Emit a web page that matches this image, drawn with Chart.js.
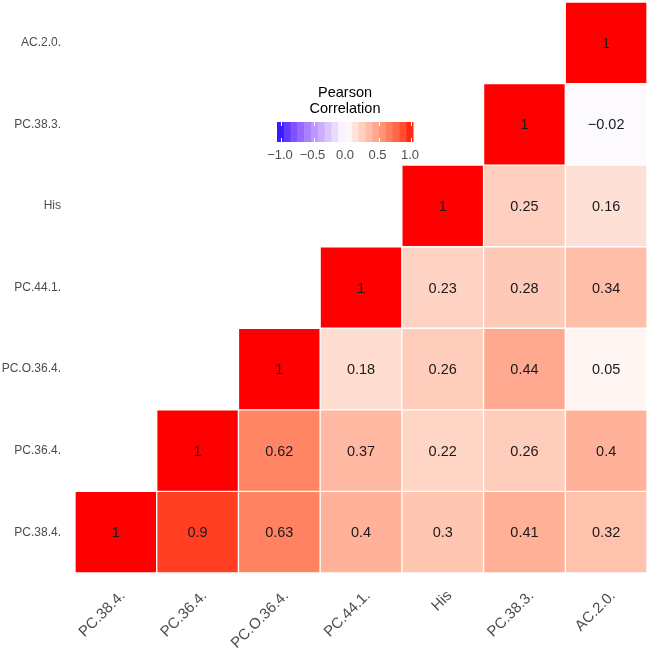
<!DOCTYPE html>
<html>
<head>
<meta charset="utf-8">
<script src="https://cdn.jsdelivr.net/npm/chart.js@4/dist/chart.umd.min.js"></script>
<style>
  html, body { margin: 0; padding: 0; background: #fff; }
</style>
</head>
<body>
<canvas id="heat" width="649" height="655"></canvas>
<script>
// variables, bottom-to-top on y and left-to-right on x
const vars = ["PC.38.4.", "PC.36.4.", "PC.O.36.4.", "PC.44.1.", "His", "PC.38.3.", "AC.2.0."];

// upper triangle, one row per y variable (value for x = same var onwards)
const rowPC384 = [1, 0.9, 0.63, 0.4, 0.3, 0.41, 0.32];
const rowPC364 = [1, 0.62, 0.37, 0.22, 0.26, 0.4];
const rowPCO364 = [1, 0.18, 0.26, 0.44, 0.05];
const rowPC441 = [1, 0.23, 0.28, 0.34];
const rowHis = [1, 0.25, 0.16];
const rowPC383 = [1, -0.02];
const rowAC20 = [1];
const rows = [rowPC384, rowPC364, rowPCO364, rowPC441, rowHis, rowPC383, rowAC20];

const legendTicks = [-1.0, -0.5, 0.0, 0.5, 1.0];

// --- colour scale: blue - white - red, interpolated in Lab like ggplot2 gradient2
function toLab(rgb) {
  const lin = rgb.map(c => { c /= 255; return c <= 0.04045 ? c / 12.92 : Math.pow((c + 0.055) / 1.055, 2.4); });
  let X = (lin[0] * 0.4124 + lin[1] * 0.3576 + lin[2] * 0.1805) / 0.95047;
  let Y = (lin[0] * 0.2126 + lin[1] * 0.7152 + lin[2] * 0.0722);
  let Z = (lin[0] * 0.0193 + lin[1] * 0.1192 + lin[2] * 0.9505) / 1.08883;
  const f = t => t > 0.008856 ? Math.cbrt(t) : (7.787 * t + 16 / 116);
  X = f(X); Y = f(Y); Z = f(Z);
  return [116 * Y - 16, 500 * (X - Y), 200 * (Y - Z)];
}
function fromLab(lab) {
  let Y = (lab[0] + 16) / 116, X = lab[1] / 500 + Y, Z = Y - lab[2] / 200;
  const fi = t => t * t * t > 0.008856 ? t * t * t : (t - 16 / 116) / 7.787;
  X = fi(X) * 0.95047; Y = fi(Y); Z = fi(Z) * 1.08883;
  let r = X * 3.2406 + Y * -1.5372 + Z * -0.4986;
  let g = X * -0.9689 + Y * 1.8758 + Z * 0.0415;
  let b = X * 0.0557 + Y * -0.2040 + Z * 1.0570;
  return [r, g, b].map(c => {
    c = c > 0.0031308 ? 1.055 * Math.pow(c, 1 / 2.4) - 0.055 : 12.92 * c;
    return Math.round(Math.max(0, Math.min(1, c)) * 255);
  });
}
const LAB_RED = toLab([255, 0, 0]);
const LAB_WHITE = toLab([255, 255, 255]);
const LAB_BLUE = toLab([0, 0, 255]);
function corrColor(v) {
  const end = v >= 0 ? LAB_RED : LAB_BLUE;
  const t = Math.min(1, Math.abs(v));
  const lab = LAB_WHITE.map((w, k) => w + (end[k] - w) * t);
  const c = fromLab(lab);
  return `rgb(${c[0]},${c[1]},${c[2]})`;
}

// one floating-bar dataset per row
const datasets = rows.map((row, j) => {
  const data = vars.map((_, i) => (i >= j ? [j - 0.5, j + 0.5] : null));
  const vals = vars.map((_, i) => (i >= j ? row[i - j] : null));
  return {
    label: vars[j],
    data: data,
    corr: vals,
    backgroundColor: vals.map(v => (v === null ? "transparent" : corrColor(v))),
    borderColor: "rgba(255,255,255,0.55)",
    borderWidth: 1,
    borderSkipped: false,
    grouped: false,
    barPercentage: 1,
    categoryPercentage: 1
  };
});

const cellLabels = {
  id: "cellLabels",
  afterDatasetsDraw(chart) {
    const ctx = chart.ctx;
    ctx.save();
    ctx.font = "14.5px Arial, 'Liberation Sans', sans-serif";
    ctx.fillStyle = "#1a1a1a";
    ctx.textAlign = "center";
    ctx.textBaseline = "middle";
    chart.data.datasets.forEach((ds, di) => {
      chart.getDatasetMeta(di).data.forEach((el, i) => {
        const v = ds.corr[i];
        if (v === null) return;
        ctx.fillText(String(v).replace("-", "\u2212"), el.x, (el.y + el.base) / 2 + 1);
      });
    });
    ctx.restore();
  }
};

const colorBar = {
  id: "colorBar",
  afterDraw(chart) {
    const ctx = chart.ctx;
    const x0 = 277, x1 = 413, y0 = 122, h = 20;
    const nbin = 20;
    const inner0 = 281, inner1 = 411;
    const xs = v => inner0 + (v + 1) / 2 * (inner1 - inner0);
    ctx.save();
    const w = (x1 - x0) / nbin;
    for (let b = 0; b < nbin; b++) {
      const v = -1 + (b + 0.5) * 2 / nbin;
      ctx.fillStyle = corrColor(v);
      ctx.fillRect(x0 + b * w, y0, w + 0.5, h);
    }
    // ticks
    ctx.strokeStyle = "#ffffff";
    ctx.lineWidth = 1;
    legendTicks.forEach(t => {
      const x = Math.round(xs(t)) + 0.5;
      ctx.beginPath();
      ctx.moveTo(x, y0); ctx.lineTo(x, y0 + 4);
      ctx.moveTo(x, y0 + h - 4); ctx.lineTo(x, y0 + h);
      ctx.stroke();
    });
    ctx.fillStyle = "#000";
    ctx.textAlign = "center";
    ctx.textBaseline = "alphabetic";
    ctx.font = "14.5px Arial, 'Liberation Sans', sans-serif";
    ctx.fillText("Pearson", (x0 + x1) / 2, 97);
    ctx.fillText("Correlation", (x0 + x1) / 2, 113);
    ctx.fillStyle = "#4d4d4d";
    ctx.font = "13px Arial, 'Liberation Sans', sans-serif";
    legendTicks.forEach(t => {
      ctx.fillText(t.toFixed(1).replace("-", "\u2212"), xs(t) - 1, 159);
    });
    ctx.restore();
  }
};

new Chart(document.getElementById("heat"), {
  type: "bar",
  data: { labels: vars, datasets: datasets },
  options: {
    responsive: false,
    animation: false,
    layout: { padding: { left: 0, top: 2, right: 2, bottom: 0 } },
    plugins: { legend: { display: false }, tooltip: { enabled: false } },
    scales: {
      x: {
        grid: { display: false, drawTicks: false },
        border: { display: false },
        ticks: {
          color: "#4d4d4d",
          font: { family: "Arial, 'Liberation Sans', sans-serif", size: 15 },
          maxRotation: 45,
          minRotation: 45,
          labelOffset: 7,
          padding: 14
        },
        afterFit(scale) {
          scale.height = 82;
          scale.paddingLeft = 0; scale.paddingRight = 0;
          scale.paddingTop = 0; scale.paddingBottom = 0;
        }
      },
      y: {
        min: -0.5,
        max: 6.5,
        grid: { display: false, drawTicks: false },
        border: { display: false },
        afterBuildTicks(scale) {
          scale.ticks = vars.map((_, i) => ({ value: i }));
        },
        ticks: {
          color: "#4d4d4d",
          font: { family: "Arial, 'Liberation Sans', sans-serif", size: 12 },
          padding: 14,
          autoSkip: false,
          callback: (v, idx) => vars[idx]
        },
        afterFit(scale) {
          scale.width = 75;
          scale.paddingLeft = 0; scale.paddingRight = 0;
          scale.paddingTop = 0; scale.paddingBottom = 0;
        }
      }
    }
  },
  plugins: [cellLabels, colorBar]
});
</script>
</body>
</html>
